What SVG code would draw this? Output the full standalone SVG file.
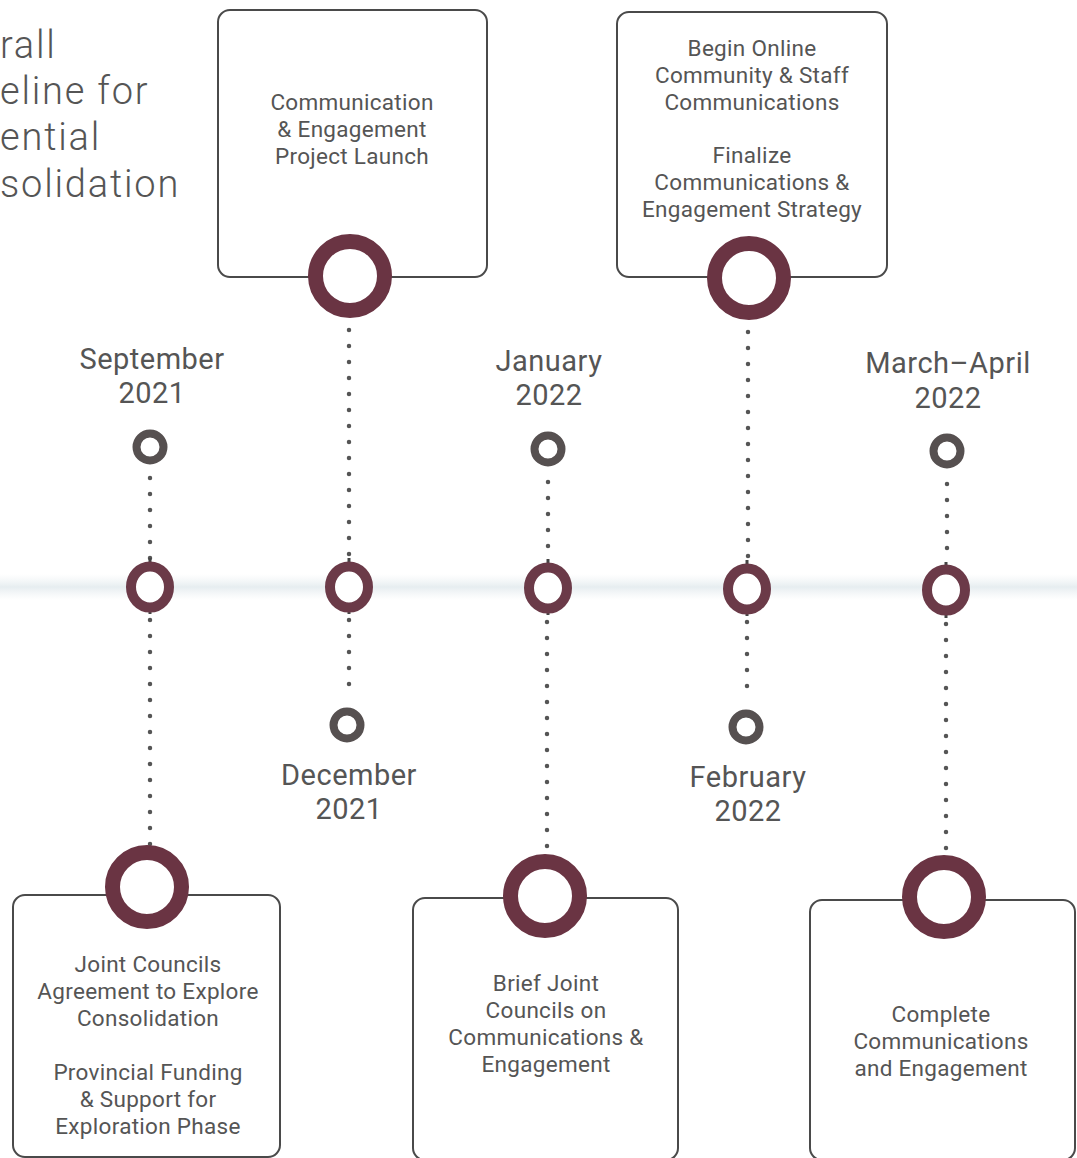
<svg xmlns="http://www.w3.org/2000/svg" width="1077" height="1158" viewBox="0 0 1077 1158">
<style>
.title{font-family:Roboto,"Liberation Sans",sans-serif;font-weight:300;font-size:38px;fill:#555;letter-spacing:1.8px}
.date{font-family:Roboto,"Liberation Sans",sans-serif;font-size:29px;fill:#555;text-anchor:middle;letter-spacing:0.5px}
.box{fill:#fff;stroke:#4a4a4a;stroke-width:2}
.btxt{font-family:Roboto,"Liberation Sans",sans-serif;font-size:22.5px;fill:#555;text-anchor:middle;letter-spacing:0.3px}
.big{fill:#fff;stroke:#6a3443;stroke-width:15}
.mid{fill:#fff;stroke:#6b3a48;stroke-width:10}
.small{fill:#fff;stroke:#565050;stroke-width:8}
.dots{fill:none;stroke:#555;stroke-width:4.5;stroke-linecap:round;stroke-dasharray:0 16}
.tick{stroke:#444;stroke-width:3}
</style>
<defs>
<linearGradient id="band" x1="0" y1="0" x2="0" y2="1">
<stop offset="0" stop-color="#eef2f4" stop-opacity="0"/>
<stop offset="0.5" stop-color="#e6edf0"/>
<stop offset="1" stop-color="#eef2f4" stop-opacity="0"/>
</linearGradient>
</defs>
<rect x="0" y="574" width="1077" height="26" fill="url(#band)"/>
<g id="title">
<text class="title" x="0" y="58">rall</text>
<text class="title" x="0" y="104">eline for</text>
<text class="title" x="0" y="150">ential</text>
<text class="title" x="0" y="197">solidation</text>
</g>
<g id="connectors">
<path class="dots" d="M150 478 V560"/>
<path class="dots" d="M150 620 V845"/>
<path class="dots" d="M349 330 V556"/>
<path class="dots" d="M349 620 V700"/>
<path class="dots" d="M548 482 V560"/>
<path class="dots" d="M547 622 V852"/>
<path class="dots" d="M748 332 V558"/>
<path class="dots" d="M747 622 V702"/>
<path class="dots" d="M947 484 V564"/>
<path class="dots" d="M946 624 V855"/>
<path class="tick" d="M150 558 V566 M150 607 V614 M349 558 V566 M349 607 V614 M548 559 V567 M548 608 V615 M747 560 V568 M747 609 V616 M946 562 V570 M946 611 V618"/>
</g>
<g id="sep2021">
<text class="date" x="152" y="369">September</text>
<text class="date" x="152" y="403">2021</text>
<circle class="small" cx="150" cy="447" r="13.5"/>
<ellipse class="mid" cx="150" cy="587" rx="19" ry="20.5"/>
<rect class="box" x="13" y="895" width="267" height="262" rx="12"/>
<circle class="big" cx="147" cy="887" r="34.5"/>
<text class="btxt" x="148" y="972">Joint Councils</text>
<text class="btxt" x="148" y="999">Agreement to Explore</text>
<text class="btxt" x="148" y="1026">Consolidation</text>
<text class="btxt" x="148" y="1080">Provincial Funding</text>
<text class="btxt" x="148" y="1107">&amp; Support for</text>
<text class="btxt" x="148" y="1134">Exploration Phase</text>
</g>
<g id="dec2021">
<rect class="box" x="218" y="10" width="269" height="267" rx="12"/>
<circle class="big" cx="350" cy="276" r="34.5"/>
<text class="btxt" x="352" y="110">Communication</text>
<text class="btxt" x="352" y="137">&amp; Engagement</text>
<text class="btxt" x="352" y="164">Project Launch</text>
<ellipse class="mid" cx="349" cy="587" rx="19" ry="20.5"/>
<circle class="small" cx="347" cy="725" r="13.5"/>
<text class="date" x="349" y="785">December</text>
<text class="date" x="349" y="819">2021</text>
</g>
<g id="jan2022">
<text class="date" x="549" y="371">January</text>
<text class="date" x="549" y="405">2022</text>
<circle class="small" cx="548" cy="449" r="13.5"/>
<ellipse class="mid" cx="548" cy="588" rx="19" ry="20.5"/>
<rect class="box" x="413" y="898" width="265" height="262" rx="12"/>
<circle class="big" cx="545" cy="896" r="34.5"/>
<text class="btxt" x="546" y="991">Brief Joint</text>
<text class="btxt" x="546" y="1018">Councils on</text>
<text class="btxt" x="546" y="1045">Communications &amp;</text>
<text class="btxt" x="546" y="1072">Engagement</text>
</g>
<g id="feb2022">
<rect class="box" x="617" y="12" width="270" height="265" rx="12"/>
<circle class="big" cx="749" cy="278" r="34.5"/>
<text class="btxt" x="752" y="56">Begin Online</text>
<text class="btxt" x="752" y="83">Community &amp; Staff</text>
<text class="btxt" x="752" y="110">Communications</text>
<text class="btxt" x="752" y="163">Finalize</text>
<text class="btxt" x="752" y="190">Communications &amp;</text>
<text class="btxt" x="752" y="217">Engagement Strategy</text>
<ellipse class="mid" cx="747" cy="589" rx="19" ry="20.5"/>
<circle class="small" cx="746" cy="727" r="13.5"/>
<text class="date" x="748" y="787">February</text>
<text class="date" x="748" y="821">2022</text>
</g>
<g id="mar2022">
<text class="date" x="948" y="373">March–April</text>
<text class="date" x="948" y="408">2022</text>
<circle class="small" cx="947" cy="451" r="13.5"/>
<ellipse class="mid" cx="946" cy="590" rx="19" ry="20.5"/>
<rect class="box" x="810" y="900" width="265" height="260" rx="12"/>
<circle class="big" cx="944" cy="897" r="34.5"/>
<text class="btxt" x="941" y="1022">Complete</text>
<text class="btxt" x="941" y="1049">Communications</text>
<text class="btxt" x="941" y="1076">and Engagement</text>
</g>
</svg>
